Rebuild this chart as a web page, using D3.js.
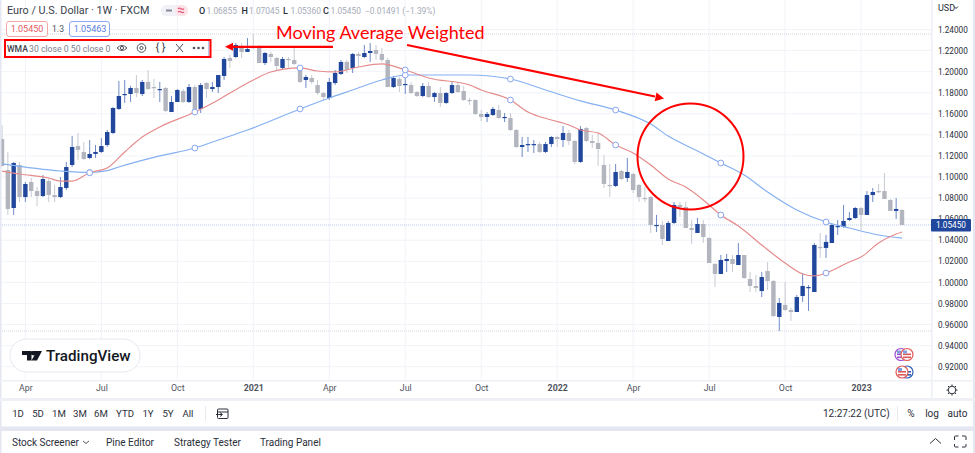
<!DOCTYPE html>
<html><head><meta charset="utf-8">
<script src="https://cdn.jsdelivr.net/npm/d3@7"></script>
<style>html,body{margin:0;padding:0;background:#fff}svg{display:block}text{font-family:Roboto,sans-serif}</style>
</head><body><svg id="c" width="975" height="453"></svg>
<script>
const opens=[1.1361,1.1067,1.0706,1.1114,1.0810,1.0953,1.0867,1.0820,1.0962,1.0829,1.0810,1.0896,1.1114,1.1294,1.1238,1.1181,1.1219,1.1238,1.1304,1.1418,1.1646,1.1778,1.1788,1.1845,1.1788,1.1902,1.1854,1.1826,1.1845,1.1617,1.1712,1.1816,1.1712,1.1854,1.1646,1.1892,1.1835,1.1854,1.1959,1.2130,1.2139,1.2225,1.2187,1.2234,1.2225,1.2082,1.2168,1.2130,1.2035,1.2120,1.2111,1.2044,1.1921,1.1940,1.1873,1.1797,1.1750,1.1892,1.1978,1.2092,1.2035,1.2168,1.2139,1.2177,1.2206,1.2168,1.2111,1.1854,1.1930,1.1873,1.1873,1.1807,1.1769,1.1864,1.1759,1.1797,1.1703,1.1797,1.1873,1.1816,1.1731,1.1731,1.1598,1.1570,1.1589,1.1636,1.1560,1.1560,1.1446,1.1285,1.1304,1.1304,1.1313,1.1238,1.1313,1.1380,1.1351,1.1418,1.1342,1.1143,1.1465,1.1342,1.1323,1.1114,1.0924,1.0915,1.1057,1.0991,1.1029,1.0924,1.0801,1.0810,1.0535,1.0545,1.0393,1.0564,1.0735,1.0716,1.0516,1.0469,1.0554,1.0421,1.0175,1.0080,1.0203,1.0222,1.0165,1.0260,1.0032,.9966,.9918,1.0108,1.0013,.9672,.9786,.9738,.9719,.9871,.9947,.9909,1.0336,1.0327,1.0374,1.0526,1.0526,1.0592,1.0611,1.0706,1.0640,1.0829,1.0867,1.0867,1.0782,1.0678,1.0687];
const highs=[1.1494,1.1238,1.1143,1.1143,1.0953,1.0991,1.0905,1.1019,1.0991,1.0924,1.1000,1.1143,1.1389,1.1418,1.1332,1.1351,1.1304,1.1370,1.1446,1.1665,1.1911,1.1921,1.1864,1.1968,1.1921,1.2016,1.1930,1.1902,1.1854,1.1769,1.1835,1.1835,1.1883,1.1873,1.1892,1.1902,1.1902,1.1968,1.2139,1.2158,1.2272,1.2272,1.2319,1.2357,1.2253,1.2187,1.2187,1.2139,1.2139,1.2139,1.2225,1.2054,1.1968,1.1968,1.1921,1.1807,1.1940,1.2016,1.2111,1.2111,1.2177,1.2187,1.2253,1.2272,1.2253,1.2225,1.2130,1.1959,1.1949,1.1949,1.1902,1.1816,1.1892,1.1902,1.1807,1.1854,1.1807,1.1911,1.1902,1.1864,1.1750,1.1740,1.1636,1.1617,1.1665,1.1684,1.1608,1.1608,1.1456,1.1380,1.1380,1.1351,1.1332,1.1332,1.1389,1.1389,1.1484,1.1446,1.1351,1.1484,1.1475,1.1399,1.1418,1.1209,1.1124,1.1124,1.1067,1.1181,1.1038,1.0934,1.0905,1.0820,1.0640,1.0583,1.0583,1.0763,1.0763,1.0763,1.0592,1.0611,1.0592,1.0431,1.0184,1.0260,1.0270,1.0260,1.0374,1.0260,1.0099,1.0070,1.0099,1.0194,1.0023,.9852,1.0004,.9757,.9880,1.0089,.9975,1.0374,1.0469,1.0450,1.0554,1.0592,1.0735,1.0668,1.0716,1.0716,1.0867,1.0896,1.0934,1.1038,1.0792,1.0801,1.0697];
const lows=[1.1095,1.0640,1.0640,1.0763,1.0763,1.0810,1.0725,1.0810,1.0763,1.0763,1.0801,1.0877,1.1095,1.1162,1.1162,1.1171,1.1181,1.1228,1.1285,1.1408,1.1636,1.1703,1.1712,1.1759,1.1769,1.1826,1.1750,1.1712,1.1617,1.1617,1.1712,1.1703,1.1703,1.1608,1.1608,1.1750,1.1807,1.1797,1.1921,1.2035,1.2130,1.2130,1.2187,1.2215,1.2082,1.2063,1.2092,1.2006,1.2025,1.2035,1.2063,1.1892,1.1845,1.1883,1.1778,1.1731,1.1731,1.1873,1.1968,1.1987,1.1987,1.2044,1.2130,1.2092,1.2111,1.2092,1.1854,1.1845,1.1807,1.1788,1.1788,1.1759,1.1759,1.1750,1.1712,1.1665,1.1693,1.1788,1.1797,1.1722,1.1684,1.1589,1.1532,1.1522,1.1579,1.1551,1.1522,1.1437,1.1276,1.1190,1.1238,1.1228,1.1228,1.1228,1.1285,1.1285,1.1285,1.1304,1.1124,1.1133,1.1332,1.1276,1.1105,1.0896,1.0810,1.0905,1.0972,1.0953,1.0848,1.0763,1.0763,1.0469,1.0478,1.0355,1.0393,1.0554,1.0621,1.0516,1.0364,1.0469,1.0374,1.0184,.9956,1.0080,1.0099,1.0099,1.0165,1.0032,.9909,.9909,.9861,.9928,.9672,.9539,.9729,.9634,.9719,.9814,.9729,.9909,1.0232,1.0232,1.0374,1.0450,1.0516,1.0583,1.0602,1.0497,1.0640,1.0763,1.0848,1.0792,1.0678,1.0602,1.0545];
const closes=[1.1105,1.0697,1.1133,1.0810,1.0934,1.0867,1.0820,1.0981,1.0829,1.0810,1.0905,1.1095,1.1285,1.1257,1.1171,1.1219,1.1238,1.1294,1.1427,1.1655,1.1769,1.1788,1.1845,1.1797,1.1902,1.1835,1.1845,1.1835,1.1627,1.1712,1.1826,1.1712,1.1854,1.1636,1.1873,1.1835,1.1854,1.1968,1.2120,1.2101,1.2253,1.2187,1.2215,1.2225,1.2082,1.2177,1.2139,1.2054,1.2120,1.2111,1.2073,1.1902,1.1949,1.1902,1.1797,1.1759,1.1902,1.1987,1.2092,1.2016,1.2168,1.2149,1.2177,1.2196,1.2168,1.2111,1.1854,1.1940,1.1864,1.1883,1.1797,1.1769,1.1864,1.1759,1.1797,1.1703,1.1797,1.1873,1.1807,1.1731,1.1722,1.1598,1.1570,1.1598,1.1646,1.1560,1.1570,1.1446,1.1285,1.1304,1.1313,1.1313,1.1238,1.1313,1.1380,1.1361,1.1418,1.1342,1.1143,1.1456,1.1342,1.1323,1.1266,1.0934,1.0915,1.1048,1.0981,1.1048,1.0877,1.0810,1.0792,1.0545,1.0545,1.0412,1.0564,1.0735,1.0716,1.0516,1.0497,1.0554,1.0431,1.0184,1.0080,1.0213,1.0222,1.0175,1.0260,1.0042,.9966,.9947,1.0051,1.0013,.9681,.9805,.9738,.9719,.9861,.9966,.9956,1.0355,1.0327,1.0384,1.0545,1.0535,1.0583,1.0611,1.0706,1.0640,1.0829,1.0858,1.0858,1.0792,1.0678,1.0697,1.0545];
const wma30Index=[0,3,8,10,12,15,18,21,24,27,33,37,39,43,46,51,54,57,61,65,69,73,80,82,87,90,94,97,99,102,105,108,111,114,117,120,123,126,130,134,137,139,141,145,147,150,153,154];
const wma30Values=[1.1057,1.1029,1.0991,1.0962,1.0962,1.1041,1.1086,1.1238,1.1380,1.1475,1.1617,1.1731,1.1797,1.1921,1.1997,1.2035,1.2006,1.1997,1.2044,1.2073,1.2016,1.1940,1.1873,1.1826,1.1731,1.1617,1.1541,1.1494,1.1446,1.1418,1.1304,1.1228,1.1114,1.0981,1.0905,1.0782,1.0640,1.0535,1.0355,1.0184,1.0080,1.0061,1.0089,1.0194,1.0241,1.0374,1.0459,1.0478];
const wma50Index=[0,10,15,18,20,27,33,37,42,51,56,60,65,69,72,80,87,93,99,105,111,114,119,123,127,131,136,141,145,150,154];
const wma50Values=[1.1124,1.1057,1.1043,1.1060,1.1095,1.1200,1.1275,1.1351,1.1446,1.1646,1.1750,1.1826,1.1921,1.1968,1.1968,1.1968,1.1930,1.1826,1.1722,1.1636,1.1503,1.1389,1.1247,1.1133,1.1019,1.0858,1.0687,1.0573,1.0516,1.0450,1.0421];
const markerIndex=[15,33,51,69,87,105,123,141];
const priceTicks=[1.24,1.22,1.20,1.18,1.16,1.14,1.12,1.10,1.08,1.06,1.04,1.02,1.00,.98,.96,.94,.92];
const timeTickIndex=[4,17,30,43,56,69,82,95,108,121,134,147];
const timeTickLabels=["Apr","Jul","Oct","2021","Apr","Jul","Oct","2022","Apr","Jul","Oct","2023"];
const rangeButtons=["1D","5D","1M","3M","6M","YTD","1Y","5Y","All"];
const panelTabs=["Stock Screener","Pine Editor","Strategy Tester","Trading Panel"];
const ohlcLetters=["O","H","L","C"];
const ohlcValues=["1.06855","1.07045","1.05360","1.05450"];
const lastPrice=1.0545, seriesHigh=1.2357, seriesLow=.9539;

const svg=d3.select("#c");
const x=d3.scaleLinear().domain([0,154]).range([2,902]);
const y=d3.scaleLinear().domain([1.24,.92]).range([29.5,366.7]);
const BLUE="#21479d",GRAY="#b2b5be",WBLUE="#6f8ac6",WGRAY="#c8cad1",TXT="#2a2e39",GRID="#f1f3f9",BAND="#e4e7f1",RED="#ff0000";
function T(s,px,py,o={}){return svg.append("text").attr("x",px).attr("y",py).attr("fill",o.fill||TXT).attr("font-size",o.size||10.5).attr("font-weight",o.weight||400).attr("text-anchor",o.anchor||"start").attr("dominant-baseline","central").text(s);}
function P(d,o={}){return svg.append("path").attr("d",d).attr("fill",o.fill||"none").attr("stroke",o.stroke||"none").attr("stroke-width",o.w||1).attr("stroke-linecap",o.cap||"butt");}

svg.append("rect").attr("width",975).attr("height",453).attr("fill","#fff");
const defs=svg.append("defs");
defs.append("clipPath").attr("id","plot").append("rect").attr("x",1).attr("y",0).attr("width",930).attr("height",380);

// grid
const grid=svg.append("g").attr("clip-path","url(#plot)");
grid.selectAll("line.h").data(priceTicks).join("line").attr("x1",0).attr("x2",931).attr("y1",d=>y(d)).attr("y2",d=>y(d)).attr("stroke",GRID);
grid.selectAll("line.v").data(timeTickIndex).join("line").attr("x1",d=>x(d)).attr("x2",d=>x(d)).attr("y1",0).attr("y2",380).attr("stroke",GRID);
[seriesHigh,seriesLow].forEach(v=>grid.append("line").attr("x1",0).attr("x2",931).attr("y1",y(v)).attr("y2",y(v)).attr("stroke","#d5d8e0").attr("stroke-dasharray","1 1"));
grid.append("line").attr("x1",0).attr("x2",931).attr("y1",y(lastPrice)).attr("y2",y(lastPrice)).attr("stroke","#b9c5ee").attr("stroke-dasharray","1 1");

// candles
const candles=opens.map((o,i)=>({i,o,h:highs[i],l:lows[i],c:closes[i]}));
const cg=svg.append("g").attr("clip-path","url(#plot)");
cg.selectAll("line.w").data(candles).join("line").attr("x1",d=>x(d.i)).attr("x2",d=>x(d.i)).attr("y1",d=>y(d.h)).attr("y2",d=>y(d.l)).attr("stroke",d=>d.c>=d.o?WBLUE:WGRAY).attr("stroke-width",1);
cg.selectAll("rect.b").data(candles).join("rect").attr("x",d=>x(d.i)-2.2).attr("width",4.4).attr("y",d=>y(Math.max(d.o,d.c))).attr("height",d=>Math.max(1.2,y(Math.min(d.o,d.c))-y(Math.max(d.o,d.c)))).attr("fill",d=>d.c>=d.o?BLUE:GRAY);

// WMA lines
const line=d3.line().x(d=>x(d[0])).y(d=>y(d[1])).curve(d3.curveMonotoneX);
const red=wma30Index.map((d,i)=>[d,wma30Values[i]]), blue=wma50Index.map((d,i)=>[d,wma50Values[i]]);
cg.append("path").attr("d",line(blue)).attr("fill","none").attr("stroke","#85b0f2").attr("stroke-width",1.2);
cg.append("path").attr("d",line(red)).attr("fill","none").attr("stroke","#e58b8b").attr("stroke-width",1.2);
const interpAt=(arr,i)=>d3.scaleLinear().domain(arr.map(d=>d[0])).range(arr.map(d=>d[1]))(i);
[blue,red].forEach(arr=>cg.selectAll(null).data(markerIndex).join("circle").attr("cx",d=>x(d)).attr("cy",d=>y(interpAt(arr,d))).attr("r",2.9).attr("fill","#fff").attr("stroke","#8aa4ee").attr("stroke-width",1));

// frames
svg.append("rect").attr("x",0).attr("y",0).attr("width",1.5).attr("height",453).attr("fill",BAND);
svg.append("rect").attr("x",973).attr("y",0).attr("width",2).attr("height",453).attr("fill",BAND);
svg.append("rect").attr("x",0).attr("y",380).attr("width",975).attr("height",1.5).attr("fill","#eef0f6");
svg.append("rect").attr("x",931).attr("y",0).attr("width",1.5).attr("height",398).attr("fill","#eef0f6");
svg.append("rect").attr("x",0).attr("y",398).attr("width",975).attr("height",3).attr("fill","#eef0f6");
svg.append("rect").attr("x",0).attr("y",426.5).attr("width",975).attr("height",4.5).attr("fill",BAND);

// price axis
const axis=d3.axisRight(y).tickValues(priceTicks).tickSize(0).tickPadding(0).tickFormat(d3.format(".5f"));
const ag=svg.append("g").attr("transform","translate(938,0)").call(axis);
ag.select(".domain").remove();
ag.selectAll("text").attr("fill",TXT).attr("font-size",8.2).attr("font-family","Roboto,sans-serif");
svg.append("rect").attr("x",931).attr("y",y(lastPrice)-6).attr("width",40).attr("height",12.5).attr("fill",BLUE).attr("rx",1);
T(d3.format(".5f")(lastPrice),951,y(lastPrice),{fill:"#fff",size:8.2,anchor:"middle"});
T("USD",938,8,{size:9});
P("M954 6.5l2 2l2-2",{stroke:TXT});

// time axis
const xAxis=d3.axisBottom(x).tickValues(timeTickIndex).tickSize(0).tickPadding(0).tickFormat((d,i)=>timeTickLabels[i]);
const xg=svg.append("g").attr("transform","translate(0,385)").call(xAxis);
xg.select(".domain").remove();
xg.selectAll("text").attr("fill","#50535e").attr("font-size",8.8).attr("font-family","Roboto,sans-serif").attr("font-weight",(d,i)=>/^20/.test(timeTickLabels[i])?700:400);
svg.append("circle").attr("cx",952).attr("cy",390).attr("r",3.8).attr("fill","none").attr("stroke",TXT).attr("stroke-width",1);
P("M952 384.5v1.5M952 394v1.5M946.5 390h1.5M956 390h1.5M948 386l1 1M955 393l1 1M948 394l1-1M955 387l1-1",{stroke:TXT});

// header
T("Euro / U.S. Dollar · 1W · FXCM",7,10,{size:10.8,fill:"#3a3e4a"});
svg.append("rect").attr("x",161).attr("y",5).attr("width",27).attr("height",11).attr("rx",5.5).attr("fill","#f0f2f7");
svg.append("rect").attr("x",175).attr("y",5).attr("width",13).attr("height",11).attr("rx",5.5).attr("fill","#fbe3e7");
P("M166 10.5h6",{stroke:"#868a96",w:2});
P("M178 8.8q1.5-1.2 3 0t3 0M178 12q1.5-1.2 3 0t3 0",{stroke:"#e2597a",w:1.2});
const ohlcX=[199,241.5,283,323];
ohlcLetters.forEach((l,i)=>{T(l,ohlcX[i],10.5,{size:9,weight:500});T(ohlcValues[i],ohlcX[i]+7.5,10.5,{size:8.4,fill:"#a6abb8"});});
T("−0.01491 (−1.39%)",365,10.5,{size:8.4,fill:"#a6abb8"});
svg.append("rect").attr("x",6.5).attr("y",21.5).attr("width",41).attr("height",15).attr("rx",2.5).attr("fill","#fff").attr("stroke","#f3a6a6");
T("1.05450",27,29,{size:9,fill:"#e25a5f",anchor:"middle"});
T("1.3",58,29,{size:8.6,fill:"#50535e",anchor:"middle"});
svg.append("rect").attr("x",69.5).attr("y",21.5).attr("width",40).attr("height",15).attr("rx",2.5).attr("fill","#fff").attr("stroke","#8aa9f0");
T("1.05463",90,29,{size:9,fill:"#5a7ee0",anchor:"middle"});

// indicator legend with red box
svg.append("rect").attr("x",5).attr("y",40).attr("width",205.5).attr("height",17).attr("fill","#fff").attr("stroke",RED).attr("stroke-width",2);
svg.append("line").attr("x1",208.5).attr("x2",208.5).attr("y1",41).attr("y2",56).attr("stroke","#b9c7f0");
T("WMA",7,48.5,{size:8.6,weight:500,fill:"#3a3e4a"});
T("30 close 0 50 close 0",29,48.5,{size:8.7,fill:"#7d8290"});
P("M117 48q5-5 10 0q-5 5-10 0z",{stroke:"#50535e"});
svg.append("circle").attr("cx",122).attr("cy",48).attr("r",1.6).attr("fill","none").attr("stroke","#50535e");
svg.append("circle").attr("cx",141.5).attr("cy",48).attr("r",4.3).attr("fill","none").attr("stroke","#50535e");
svg.append("circle").attr("cx",141.5).attr("cy",48).attr("r",1.6).attr("fill","none").attr("stroke","#50535e");
T("{ }",160.5,47.5,{size:11,anchor:"middle",fill:"#3a3e4a"});
P("M176 44l7 8M183 44l-7 8",{stroke:"#50535e"});
[194,198.5,203].forEach(c=>svg.append("circle").attr("cx",c).attr("cy",48).attr("r",1.3).attr("fill","#50535e"));

// annotations
T("Moving Average Weighted",276,31.5,{size:18,fill:RED}).style("font-family","Lato,sans-serif");
P("M333 46.8H231",{stroke:RED,w:2.2});
P("M225 46.8l8-4v8z",{fill:RED});
P("M407 45L655 96.5",{stroke:RED,w:2.2});
P("M664 98.5l-9.3 2.8l1.8-8.8z",{fill:RED});
svg.append("circle").attr("cx",690.5).attr("cy",156.5).attr("r",53).attr("fill","none").attr("stroke",RED).attr("stroke-width",2);

// logo
svg.append("rect").attr("x",10).attr("y",339).attr("width",130).attr("height",33).attr("rx",16.5).attr("fill","#fff").attr("stroke","#e6e8f0");
P("M22 351h9.5v9.5h-4.5v-5.5h-5zM33 351h9l-5 9.5h-5.5l3.2-5.8a2.2 2.2 0 1 1-1.7-3.7z",{fill:"#131722"});
T("TradingView",46,356,{size:15.2,weight:500,fill:"#131722"});

// event flags
[[901,354.5,"#9c4fd0"],[907,354.5,"#e05a5a"],[907,372,"#2f5fb5"],[902,372,"#e05a5a"]].forEach(f=>{
 svg.append("circle").attr("cx",f[0]).attr("cy",f[1]).attr("r",6).attr("fill","#fff").attr("stroke",f[2]).attr("stroke-width",1.2);
 svg.append("rect").attr("x",f[0]-4).attr("y",f[1]-1).attr("width",8).attr("height",1.6).attr("fill",f[2]);
 svg.append("rect").attr("x",f[0]-4).attr("y",f[1]+2).attr("width",8).attr("height",1.6).attr("fill",f[2]);
 svg.append("rect").attr("x",f[0]-4).attr("y",f[1]-4).attr("width",4).attr("height",3).attr("fill","#7f9fe0");
});

// bottom toolbar
const btnX=[18,38,59,80,101,125,148,168,188];
rangeButtons.forEach((b,i)=>T(b,btnX[i],413.5,{size:9.6,anchor:"middle"}));
svg.append("line").attr("x1",205.5).attr("x2",205.5).attr("y1",406).attr("y2",421).attr("stroke","#e8eaf0");
svg.append("rect").attr("x",217.5).attr("y",409).attr("width",10.5).attr("height",9.5).attr("rx",1).attr("fill","none").attr("stroke",TXT);
P("M217 412h11M216 414.5h6M220 412.5l2.5 2l-2.5 2",{stroke:TXT});
T("12:27:22 (UTC)",823,413.5,{size:10});
svg.append("line").attr("x1",897.5).attr("x2",897.5).attr("y1",406).attr("y2",421).attr("stroke","#e8eaf0");
T("%",911,413.5,{size:10,anchor:"middle"});
T("log",932,413.5,{size:10,anchor:"middle"});
T("auto",957.5,413.5,{size:10,anchor:"middle"});

// bottom panel
const tabX=[12,106,174,260];
panelTabs.forEach((t,i)=>T(t,tabX[i],442,{size:10}));
P("M83 441l3 2.5l3-2.5",{stroke:"#50535e"});
P("M930 443.5l5.5-5l5.5 5",{stroke:TXT});
P("M954.5 440v-3a1 1 0 0 1 1-1h3M962 436h3a1 1 0 0 1 1 1v3M966 444v2a1 1 0 0 1-1 1h-3M958.5 447h-3a1 1 0 0 1-1-1v-2",{stroke:TXT});
</script></body></html>
